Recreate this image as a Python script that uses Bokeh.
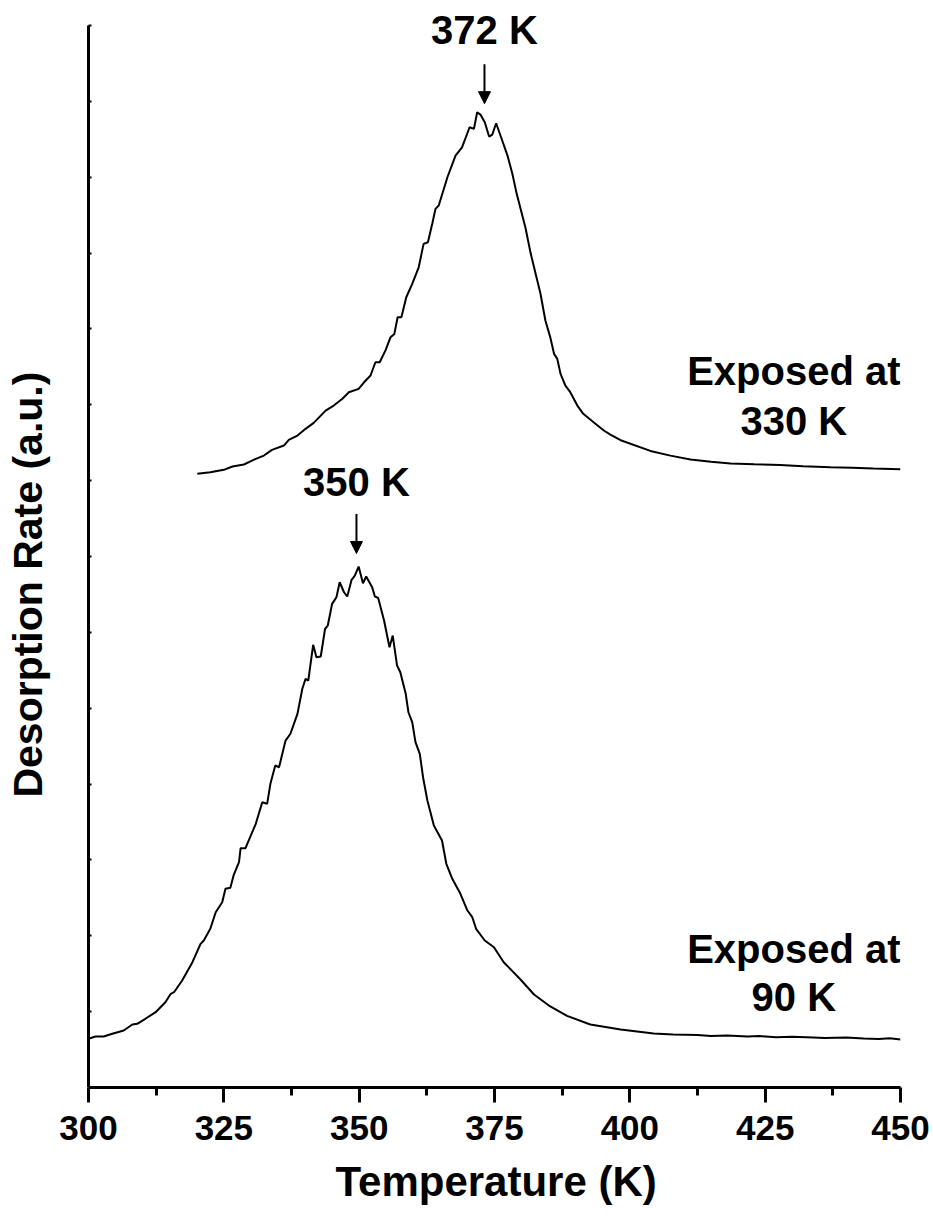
import math
from bokeh.plotting import figure
from bokeh.models import Range1d, FixedTicker, Arrow, NormalHead, Label, Title
from bokeh.embed import file_html
from bokeh.resources import INLINE

# ---------------- data ----------------
temp_90 = [300.0, 301.3, 302.8, 304.4, 306.5, 308.1, 309.0, 310.5, 312.4, 314.2,
           315.2, 315.8, 317.3, 319.2, 320.7, 321.3, 322.5, 323.5, 324.7, 325.3,
           326.2, 326.8, 327.8, 328.1, 329.0, 330.9, 332.1, 333.0, 333.6, 334.5,
           335.2, 336.4, 337.3, 338.6, 339.5, 340.1, 340.6, 341.5, 342.1, 342.9,
           343.7, 344.2, 345.0, 345.8, 346.4, 347.2, 347.8, 348.6, 349.2, 349.9,
           350.7, 351.3, 352.4, 352.9, 353.5, 354.6, 355.6, 356.2, 357.0, 357.6,
           358.6, 359.1, 359.8, 360.4, 361.2, 361.8, 362.6, 363.8, 365.3, 366.1,
           367.2, 368.7, 370.0, 370.9, 371.6, 373.2, 374.9, 376.7, 379.8, 382.3,
           385.3, 388.4, 392.7, 398.3, 404.4, 408.0, 412.5, 415.0, 418.0, 421.7,
           424.0, 427.0, 430.0, 433.9, 436.0, 440.0, 443.2, 446.0, 448.0, 450.0]
rate_90 = [0.642, 0.672, 0.672, 0.708, 0.751, 0.830, 0.840, 0.906, 0.993, 1.124,
           1.235, 1.256, 1.411, 1.652, 1.894, 1.938, 2.092, 2.311, 2.443, 2.619,
           2.633, 2.795, 2.970, 3.155, 3.155, 3.476, 3.761, 3.740, 4.003, 4.245,
           4.222, 4.574, 4.663, 4.926, 5.256, 5.388, 5.365, 5.836, 5.672, 5.682,
           6.047, 6.090, 6.376, 6.463, 6.661, 6.529, 6.473, 6.693, 6.749, 6.868,
           6.648, 6.736, 6.595, 6.473, 6.455, 6.156, 5.804, 5.958, 5.563, 5.475,
           5.190, 4.947, 4.816, 4.552, 4.399, 4.090, 3.783, 3.454, 3.256, 2.949,
           2.751, 2.553, 2.333, 2.245, 2.092, 1.938, 1.849, 1.652, 1.424, 1.226,
           1.068, 0.944, 0.830, 0.765, 0.712, 0.700, 0.691, 0.680, 0.686, 0.672,
           0.678, 0.662, 0.668, 0.659, 0.652, 0.658, 0.646, 0.640, 0.648, 0.633]

temp_330 = [320.1, 322.5, 325.0, 326.6, 328.7, 330.9, 332.4, 333.9, 336.1, 337.0,
            338.6, 340.1, 341.6, 343.8, 345.3, 346.9, 348.1, 349.9, 350.9, 352.1,
            353.0, 353.8, 354.9, 355.8, 356.5, 357.1, 357.8, 358.7, 359.8, 361.0,
            361.9, 362.7, 363.5, 364.1, 364.7, 366.3, 367.8, 369.0, 370.4, 371.2,
            371.8, 372.4, 373.2, 374.0, 374.6, 375.3, 376.1, 377.4, 378.3, 379.1,
            380.7, 381.7, 382.9, 383.5, 384.4, 385.3, 386.0, 386.6, 387.2, 388.1,
            389.0, 390.3, 391.4, 393.3, 395.2, 396.4, 398.3, 403.8, 407.5, 411.2,
            415.0, 418.6, 423.0, 427.8, 432.0, 437.1, 441.0, 445.0, 450.0]
rate_330 = [8.090, 8.111, 8.143, 8.186, 8.213, 8.288, 8.331, 8.406, 8.463, 8.538,
            8.595, 8.683, 8.762, 8.924, 8.990, 9.079, 9.166, 9.210, 9.297, 9.386,
            9.561, 9.561, 9.725, 9.891, 9.935, 10.154, 10.154, 10.418, 10.595, 10.813,
            11.122, 11.143, 11.386, 11.583, 11.627, 12.000, 12.286, 12.395, 12.659, 12.638,
            12.857, 12.826, 12.725, 12.536, 12.563, 12.712, 12.550, 12.286, 12.045, 11.781,
            11.341, 10.990, 10.638, 10.463, 10.111, 9.891, 9.672, 9.606, 9.408, 9.254,
            9.166, 8.990, 8.881, 8.770, 8.661, 8.608, 8.533, 8.392, 8.330, 8.278,
            8.250, 8.226, 8.215, 8.207, 8.190, 8.178, 8.170, 8.160, 8.151]

x_ticks = [300, 325, 350, 375, 400, 425, 450]
x_minor_ticks = [312.5, 337.5, 362.5, 387.5, 412.5, 437.5]
y_ticks = list(range(0, 15))

peak_temps = [349.5, 373.15]
peak_texts = ["350 K", "372 K"]
peak_arrow_top = [7.56, 13.49]
peak_arrow_tip = [7.04, 12.97]
peak_text_y = [7.98, 13.94]

curve_label_x = 430.3
curve_label_lines = [["Exposed at", "330 K"], ["Exposed at", "90 K"]]
curve_label_y = [[9.45, 8.79], [1.83, 1.19]]

FONT = "Liberation Sans"

# frame spans page x 10..900 (300 K sits at x=88); y axis drawn at T=300
p = figure(width=933, height=1219,
           x_range=Range1d(285.59, 450), y_range=Range1d(0, 14.33),
           output_backend="svg", toolbar_location=None,
           min_border_left=10, min_border_right=33, min_border_top=0,
           min_border_bottom=132)
p.grid.visible = False
p.outline_line_color = None
p.background_fill_color = "white"
p.border_fill_color = "white"

# x axis
xa = p.xaxis[0]
xa.bounds = (x_ticks[0], x_ticks[-1])
xa.ticker = FixedTicker(ticks=x_ticks, minor_ticks=x_minor_ticks)
xa.axis_line_width = 3
xa.axis_line_color = "black"
xa.major_tick_line_width = 3
xa.major_tick_line_color = "black"
xa.major_tick_out = 15
xa.major_tick_in = 0
xa.minor_tick_line_width = 3
xa.minor_tick_line_color = "black"
xa.minor_tick_out = 8
xa.minor_tick_in = 0
xa.major_label_text_font = FONT
xa.major_label_text_font_style = "bold"
xa.major_label_text_font_size = "35px"
xa.major_label_text_color = "black"
xa.major_label_standoff = 13

# x-axis title, positioned like the reference (centred under 300..450)
p.add_layout(Title(text="Temperature (K)", align="left", offset=325, standoff=27,
                   text_font=FONT, text_font_style="bold", text_font_size="42px",
                   text_color="black"), "below")

# y axis: unlabeled, small inward ticks, placed at T = 300
ya = p.yaxis[0]
ya.fixed_location = x_ticks[0]
ya.bounds = (y_ticks[0], y_ticks[-1])
ya.ticker = FixedTicker(ticks=[], minor_ticks=y_ticks)
ya.axis_line_width = 3
ya.axis_line_color = "black"
ya.minor_tick_line_width = 2
ya.minor_tick_line_color = "black"
ya.minor_tick_in = 3
ya.minor_tick_out = 0
ya.major_tick_line_color = None
ya.major_tick_out = 0
ya.major_tick_in = 0
ya.major_label_standoff = 0

# y-axis title
p.add_layout(Label(x=288.75, y=6.63, text="Desorption Rate (a.u.)", angle=math.pi / 2,
                   text_align="center", text_baseline="alphabetic",
                   text_font=FONT, text_font_style="bold", text_font_size="41px",
                   text_color="black"))

# curves
p.line(temp_90, rate_90, line_color="black", line_width=2)
p.line(temp_330, rate_330, line_color="black", line_width=2)

# peak arrows and labels
for t, txt, y0, y1, ty in zip(peak_temps, peak_texts, peak_arrow_top, peak_arrow_tip, peak_text_y):
    p.add_layout(Arrow(end=NormalHead(size=12, fill_color="black", line_color="black", line_width=1),
                       x_start=t, y_start=y0, x_end=t, y_end=y1,
                       line_color="black", line_width=2))
    p.add_layout(Label(x=t, y=ty, text=txt, text_align="center", text_baseline="alphabetic",
                       text_font=FONT, text_font_style="bold", text_font_size="40px",
                       text_color="black"))

for lines, ys in zip(curve_label_lines, curve_label_y):
    for txt, yy in zip(lines, ys):
        p.add_layout(Label(x=curve_label_x, y=yy, text=txt, text_align="center",
                           text_baseline="alphabetic", text_font=FONT,
                           text_font_style="bold", text_font_size="40px",
                           text_color="black"))

open("out.html", "w").write(file_html(p, INLINE))
